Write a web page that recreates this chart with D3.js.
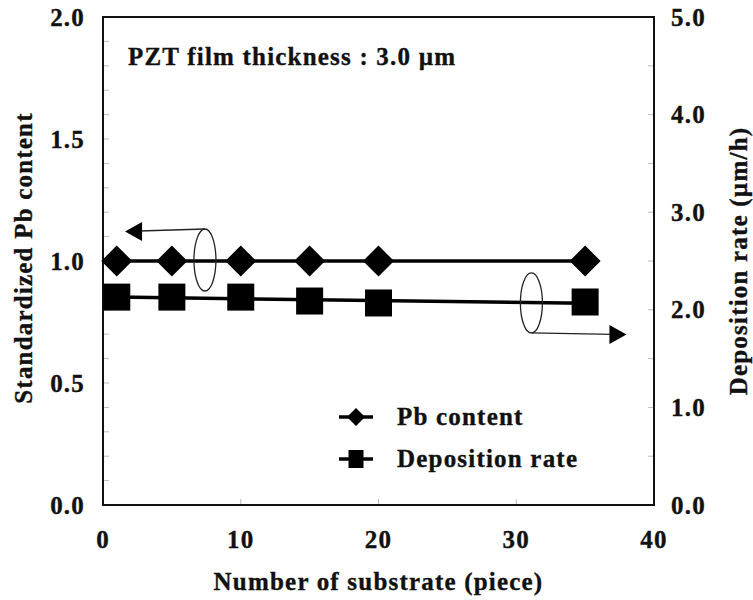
<!DOCTYPE html>
<html>
<head>
<meta charset="utf-8">
<script src="https://cdn.jsdelivr.net/npm/d3@7/dist/d3.min.js"></script>
<style>
  html, body { margin: 0; padding: 0; background: #fff; }
  svg text { font-family: "Liberation Serif", "Times New Roman", serif; font-weight: bold; fill: #111; stroke: #111; stroke-width: 0.35px; }
</style>
</head>
<body>
<svg id="chart"></svg>
<script>
const pieces = [1, 5, 10, 15, 20, 35];
const pbContent = [1.0, 1.0, 1.0, 1.0, 1.0, 1.0];
const depositionRate = [2.13, 2.13, 2.13, 2.09, 2.07, 2.08];

const xTicks = [0, 10, 20, 30, 40];
const leftTicks = [0, 0.5, 1.0, 1.5, 2.0];
const rightTicks = [0, 1, 2, 3, 4, 5];

const width = 753, height = 600;
const margin = { top: 17, right: 99, bottom: 95, left: 103 };
const innerW = width - margin.left - margin.right;
const innerH = height - margin.top - margin.bottom;

const svg = d3.select("#chart").attr("width", width).attr("height", height);
const root = svg.append("g").attr("transform", `translate(${margin.left},${margin.top})`);

const x = d3.scaleLinear().domain([0, 40]).range([0, innerW]);
const yLeft = d3.scaleLinear().domain([0, 2]).range([innerH, 0]);
const yRight = d3.scaleLinear().domain([0, 5]).range([innerH, 0]);

const fontSize = 25;
const spacing = "1.2px";

// minor ticks, drawn inside the frame
const tickColor = "#bdbdbd";
root.append("g").selectAll("line")
  .data(d3.range(1, 20).map((i) => i / 10))
  .join("line")
  .attr("x1", 0).attr("x2", 6)
  .attr("y1", (d) => yLeft(d)).attr("y2", (d) => yLeft(d))
  .attr("stroke", tickColor).attr("stroke-width", 1);

root.append("g").selectAll("line")
  .data(d3.range(1, 10).map((i) => i / 2))
  .join("line")
  .attr("x1", innerW - 6).attr("x2", innerW)
  .attr("y1", (d) => yRight(d)).attr("y2", (d) => yRight(d))
  .attr("stroke", tickColor).attr("stroke-width", 1);

root.append("g").selectAll("line")
  .data([10, 20, 30])
  .join("line")
  .attr("x1", (d) => x(d)).attr("x2", (d) => x(d))
  .attr("y1", innerH - 6).attr("y2", innerH)
  .attr("stroke", tickColor).attr("stroke-width", 1);

// frame
root.append("rect")
  .attr("x", 0).attr("y", 0).attr("width", innerW).attr("height", innerH)
  .attr("fill", "none").attr("stroke", "#111").attr("stroke-width", 2);

// tick labels
root.append("g").selectAll("text")
  .data(leftTicks)
  .join("text")
  .attr("x", -18).attr("y", (d) => yLeft(d))
  .attr("text-anchor", "end").attr("dominant-baseline", "central")
  .attr("font-size", fontSize).attr("letter-spacing", spacing)
  .text((d) => d.toFixed(1));

root.append("g").selectAll("text")
  .data(rightTicks)
  .join("text")
  .attr("x", innerW + 17).attr("y", (d) => yRight(d))
  .attr("text-anchor", "start").attr("dominant-baseline", "central")
  .attr("font-size", fontSize).attr("letter-spacing", spacing)
  .text((d) => d.toFixed(1));

root.append("g").selectAll("text")
  .data(xTicks)
  .join("text")
  .attr("x", (d) => x(d)).attr("y", innerH + 43)
  .attr("text-anchor", "middle")
  .attr("font-size", fontSize).attr("letter-spacing", spacing)
  .text((d) => d);

// axis titles
root.append("text")
  .attr("x", innerW / 2).attr("y", innerH + 85)
  .attr("text-anchor", "middle")
  .attr("font-size", fontSize).attr("letter-spacing", spacing)
  .text("Number of substrate (piece)");

root.append("text")
  .attr("transform", `translate(${-80},${innerH / 2 - 3}) rotate(-90)`)
  .attr("text-anchor", "middle").attr("dominant-baseline", "central")
  .attr("font-size", fontSize).attr("letter-spacing", spacing)
  .text("Standardized Pb content");

root.append("text")
  .attr("transform", `translate(${innerW + 84},${innerH / 2}) rotate(-90)`)
  .attr("text-anchor", "middle").attr("dominant-baseline", "central")
  .attr("font-size", fontSize).attr("letter-spacing", spacing)
  .text("Deposition rate (\u00b5m/h)");

root.append("text")
  .attr("x", 25).attr("y", 48)
  .attr("font-size", fontSize).attr("letter-spacing", spacing)
  .text("PZT film thickness : 3.0 \u00b5m");

// series
const pbData = pieces.map((p, i) => ({ x: p, y: pbContent[i] }));
const rateData = pieces.map((p, i) => ({ x: p, y: depositionRate[i] }));

root.append("path")
  .datum(pbData)
  .attr("fill", "none").attr("stroke", "#000").attr("stroke-width", 3.5)
  .attr("d", d3.line().x((d) => x(d.x)).y((d) => yLeft(d.y)));

// deposition rate is drawn with a least-squares trend line
const mx = d3.mean(rateData, (d) => d.x);
const my = d3.mean(rateData, (d) => d.y);
const slope = d3.sum(rateData, (d) => (d.x - mx) * (d.y - my)) / d3.sum(rateData, (d) => (d.x - mx) ** 2);
const fit = (v) => my + slope * (v - mx);
const trend = d3.extent(pieces).map((v) => ({ x: v, y: fit(v) }));

root.append("path")
  .datum(trend)
  .attr("fill", "none").attr("stroke", "#000").attr("stroke-width", 3.5)
  .attr("d", d3.line().x((d) => x(d.x)).y((d) => yRight(d.y)));

const diamond = (r) => `M0,${-r}L${r},0L0,${r}L${-r},0Z`;

root.append("g").selectAll("path")
  .data(pbData)
  .join("path")
  .attr("transform", (d) => `translate(${x(d.x)},${yLeft(d.y)})`)
  .attr("d", diamond(15.5))
  .attr("fill", "#000");

root.append("g").selectAll("rect")
  .data(rateData)
  .join("rect")
  .attr("x", (d) => x(d.x) - 13.5).attr("y", (d) => yRight(d.y) - 13.5)
  .attr("width", 27).attr("height", 27)
  .attr("fill", "#000");

// arrows with ellipses pointing to the axis each series belongs to
function arrowHead(g, tipX, tipY, dir) {
  const len = 17, half = 9.5;
  g.append("path")
    .attr("d", `M${tipX},${tipY}L${tipX - dir * len},${tipY - half}L${tipX - dir * len},${tipY + half}Z`)
    .attr("fill", "#000");
}

const ann = root.append("g");
// Pb content -> left axis
const lcx = x(7.4), lcy = yLeft(1.004);
const lTip = x(1.6);
ann.append("ellipse")
  .attr("cx", lcx).attr("cy", lcy).attr("rx", 11).attr("ry", 31)
  .attr("fill", "none").attr("stroke", "#222").attr("stroke-width", 1.3);
ann.append("line")
  .attr("x1", lcx).attr("y1", lcy - 31)
  .attr("x2", lTip + 14).attr("y2", lcy - 29)
  .attr("stroke", "#222").attr("stroke-width", 1.3);
arrowHead(ann, lTip, lcy - 28.5, -1);

// deposition rate -> right axis
const rcx = x(31.1), rcy = yRight(2.07);
const rTip = x(38.0);
ann.append("ellipse")
  .attr("cx", rcx).attr("cy", rcy).attr("rx", 11).attr("ry", 30)
  .attr("fill", "none").attr("stroke", "#222").attr("stroke-width", 1.3);
ann.append("line")
  .attr("x1", rcx).attr("y1", rcy + 30)
  .attr("x2", rTip - 14).attr("y2", rcy + 31.5)
  .attr("stroke", "#222").attr("stroke-width", 1.3);
arrowHead(ann, rTip, rcy + 31.5, 1);

// legend
const legendItems = [
  { label: "Pb content", shape: "diamond" },
  { label: "Deposition rate", shape: "square" },
];
const legend = root.append("g").attr("transform", "translate(236,400)");
const rows = legend.selectAll("g").data(legendItems).join("g")
  .attr("transform", (d, i) => `translate(0,${i * 42})`);
rows.append("line")
  .attr("x1", 0).attr("x2", 34).attr("y1", 0).attr("y2", 0)
  .attr("stroke", "#000").attr("stroke-width", 3.5);
rows.filter((d) => d.shape === "diamond").append("path")
  .attr("transform", "translate(17,0)")
  .attr("d", diamond(9)).attr("fill", "#000");
rows.filter((d) => d.shape === "square").append("rect")
  .attr("x", 9.5).attr("y", -9).attr("width", 15).attr("height", 18)
  .attr("fill", "#000");
rows.append("text")
  .attr("x", 58).attr("y", 8)
  .attr("font-size", fontSize).attr("letter-spacing", spacing)
  .text((d) => d.label);
</script>
</body>
</html>
